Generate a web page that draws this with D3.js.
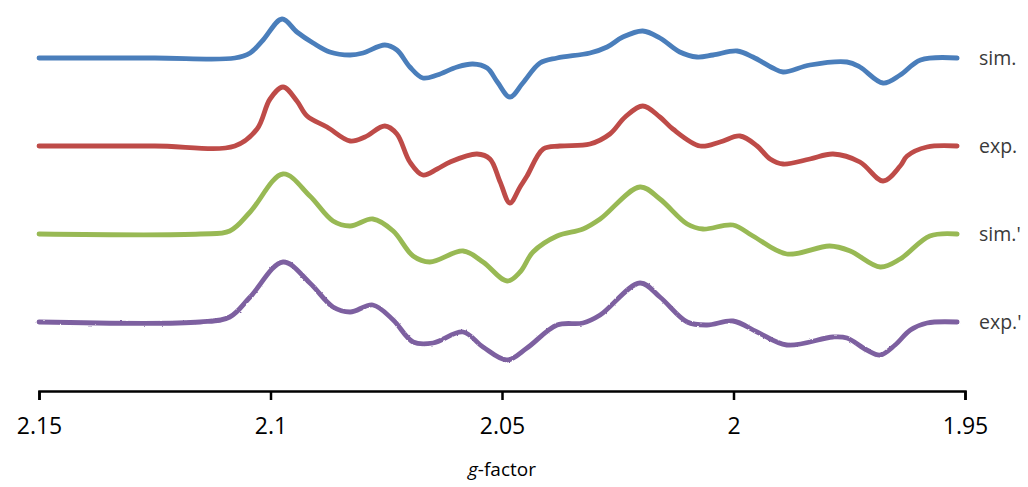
<!DOCTYPE html>
<html>
<head>
<meta charset="utf-8">
<script src="https://cdn.jsdelivr.net/npm/d3@7"></script>
<style>
  body { margin: 0; background: #fff; }
  svg { display: block; font-family: "Open Sans", sans-serif; }
</style>
</head>
<body>
<script>
// series names, as shown on the right
var seriesNames = ["sim.", "exp.", "sim.'", "exp.'"];
var seriesColors = ["#4a7ebb", "#be4b48", "#98b954", "#7d60a0"];
var seriesOffsets = [0, -88, -176, -264];

var xTicks = [2.15, 2.1, 2.05, 2, 1.95];

// g-factor positions
var gBlue = [2.150, 2.125, 2.1077, 2.1044, 2.1016, 2.0975, 2.0943, 2.0908, 2.0872, 2.0828, 2.0800, 2.0753, 2.0727, 2.0699, 2.0671, 2.0640, 2.0597, 2.0563, 2.0532, 2.0510, 2.0483, 2.0455, 2.0418, 2.0381, 2.0310, 2.0273, 2.0239, 2.0196, 2.0159, 2.0116, 2.0079, 2.0044, 1.9992, 1.9958, 1.9915, 1.9893, 1.9835, 1.9755, 1.9727, 1.9677, 1.9640, 1.9596, 1.9517];
var vBlue = [0, 0, 0, 5, 18, 39, 26, 15, 6, 3, 5, 13, 8, -9, -20, -17, -9, -6, -10, -24, -39, -25, -5, 0, 5, 11, 21, 27, 20, 6, 1, 3, 7, 1, -10, -14, -7, -4, -9, -25, -17, -2, 0];

var gRed = [2.150, 2.125, 2.1077, 2.1029, 2.1001, 2.0973, 2.0943, 2.0921, 2.0878, 2.0828, 2.0796, 2.0753, 2.0727, 2.0699, 2.0671, 2.0640, 2.0612, 2.0554, 2.0526, 2.0504, 2.0483, 2.0461, 2.0446, 2.0411, 2.0375, 2.0310, 2.0267, 2.0234, 2.0196, 2.0159, 2.0131, 2.0072, 2.0029, 1.9986, 1.9949, 1.9921, 1.9893, 1.9835, 1.9785, 1.9727, 1.9677, 1.9640, 1.9625, 1.9582, 1.9517];
var vRed = [0, 0, 0, 17, 47, 59, 45, 30, 19, 5, 9, 20, 12, -16, -29, -23, -16, -8, -13, -36, -57, -41, -30, -3, 0, 2, 12, 29, 40, 29, 17, 0, 4, 10, 0, -13, -18, -13, -8, -16, -35, -20, -10, -1, 0];

var gGreen = [2.150, 2.1152, 2.1088, 2.1044, 2.0973, 2.0915, 2.0865, 2.0828, 2.0779, 2.0735, 2.0692, 2.0656, 2.0584, 2.0541, 2.0489, 2.0461, 2.0433, 2.0381, 2.0325, 2.0288, 2.0202, 2.0159, 2.0100, 2.0066, 2.0001, 1.9958, 1.9885, 1.9792, 1.9748, 1.9683, 1.9640, 1.9576, 1.9517];
var vGreen = [0, 0, 3, 22, 60, 38, 13, 8, 15, 3, -22, -28, -17, -28, -47, -38, -18, -2, 5, 15, 47, 35, 10, 5, 9, -2, -20, -12, -17, -33, -25, -2, 0];

var gPurple = [2.150, 2.1152, 2.1088, 2.1044, 2.0973, 2.0915, 2.0865, 2.0828, 2.0779, 2.0735, 2.0692, 2.0649, 2.0584, 2.0541, 2.0489, 2.0446, 2.0381, 2.0325, 2.0288, 2.0202, 2.0159, 2.0100, 2.0057, 2.0001, 1.9949, 1.9885, 1.9785, 1.9755, 1.9712, 1.9683, 1.9651, 1.9618, 1.9582, 1.9517];
var vPurple = [0, 0, 5, 25, 60, 39, 15, 10, 17, 2, -20, -21, -10, -25, -38, -26, -3, -1, 7, 39, 25, 0, -3, 1, -10, -23, -15, -16, -28, -33, -23, -8, -1, 0];

var seriesG = [gBlue, gRed, gGreen, gPurple];
var seriesV = [vBlue, vRed, vGreen, vPurple];

var width = 1028;
var height = 487;

var xScale = d3.scaleLinear()
               .domain([2.15, 1.95])
               .range([39, 965]);

var yScale = d3.scaleLinear()
               .domain([40, -340])
               .range([18, 398]);

var svg = d3.select("body")
            .append("svg")
            .attr("width", width)
            .attr("height", height);

// slight roughness for the measured trace
var filter = svg.append("defs").append("filter")
                .attr("id", "noisy")
                .attr("x", "-5%").attr("y", "-20%")
                .attr("width", "110%").attr("height", "140%");
filter.append("feTurbulence")
      .attr("type", "fractalNoise")
      .attr("baseFrequency", "0.35")
      .attr("numOctaves", 1)
      .attr("seed", 3)
      .attr("result", "n");
filter.append("feDisplacementMap")
      .attr("in", "SourceGraphic")
      .attr("in2", "n")
      .attr("scale", 2.2)
      .attr("xChannelSelector", "R")
      .attr("yChannelSelector", "G");

var line = d3.line()
             .x(function(d){ return xScale(d[0]); })
             .y(function(d){ return yScale(d[1]); })
             .curve(d3.curveCatmullRom.alpha(0.5));

seriesNames.forEach(function(name, i){
  var pts = seriesG[i].map(function(g, j){
    return [g, seriesV[i][j] + seriesOffsets[i]];
  });

  svg.append("path")
     .datum(pts)
     .attr("d", line)
     .attr("fill", "none")
     .attr("stroke", seriesColors[i])
     .attr("stroke-width", 4.8)
     .attr("stroke-linejoin", "round")
     .attr("stroke-linecap", "round")
     .attr("filter", i == 3 ? "url(#noisy)" : null);

  svg.append("text")
     .attr("x", 979)
     .attr("y", yScale(seriesOffsets[i]) + 7)
     .attr("font-size", 19.5)
     .attr("fill", "#3a3a3a")
     .text(name);
});

var xAxis = d3.axisBottom()
              .scale(xScale)
              .tickValues(xTicks)
              .tickFormat(d3.format(""))
              .tickSize(9)
              .tickSizeOuter(9)
              .tickPadding(18);

var gx = svg.append("g")
            .attr("transform", "translate(0,391)")
            .call(xAxis);

gx.select(".domain").attr("stroke", "#000").attr("stroke-width", 2.5);
gx.selectAll(".tick line").attr("stroke", "#000").attr("stroke-width", 2.5);
gx.selectAll(".tick text")
  .attr("font-family", "Open Sans, sans-serif")
  .attr("font-size", 23)
  .attr("fill", "#000");

var title = svg.append("text")
               .attr("x", 502)
               .attr("y", 476)
               .attr("text-anchor", "middle")
               .attr("font-size", 19)
               .attr("fill", "#000");
title.append("tspan").attr("font-style", "italic").text("g");
title.append("tspan").text("-factor");
</script>
</body>
</html>
